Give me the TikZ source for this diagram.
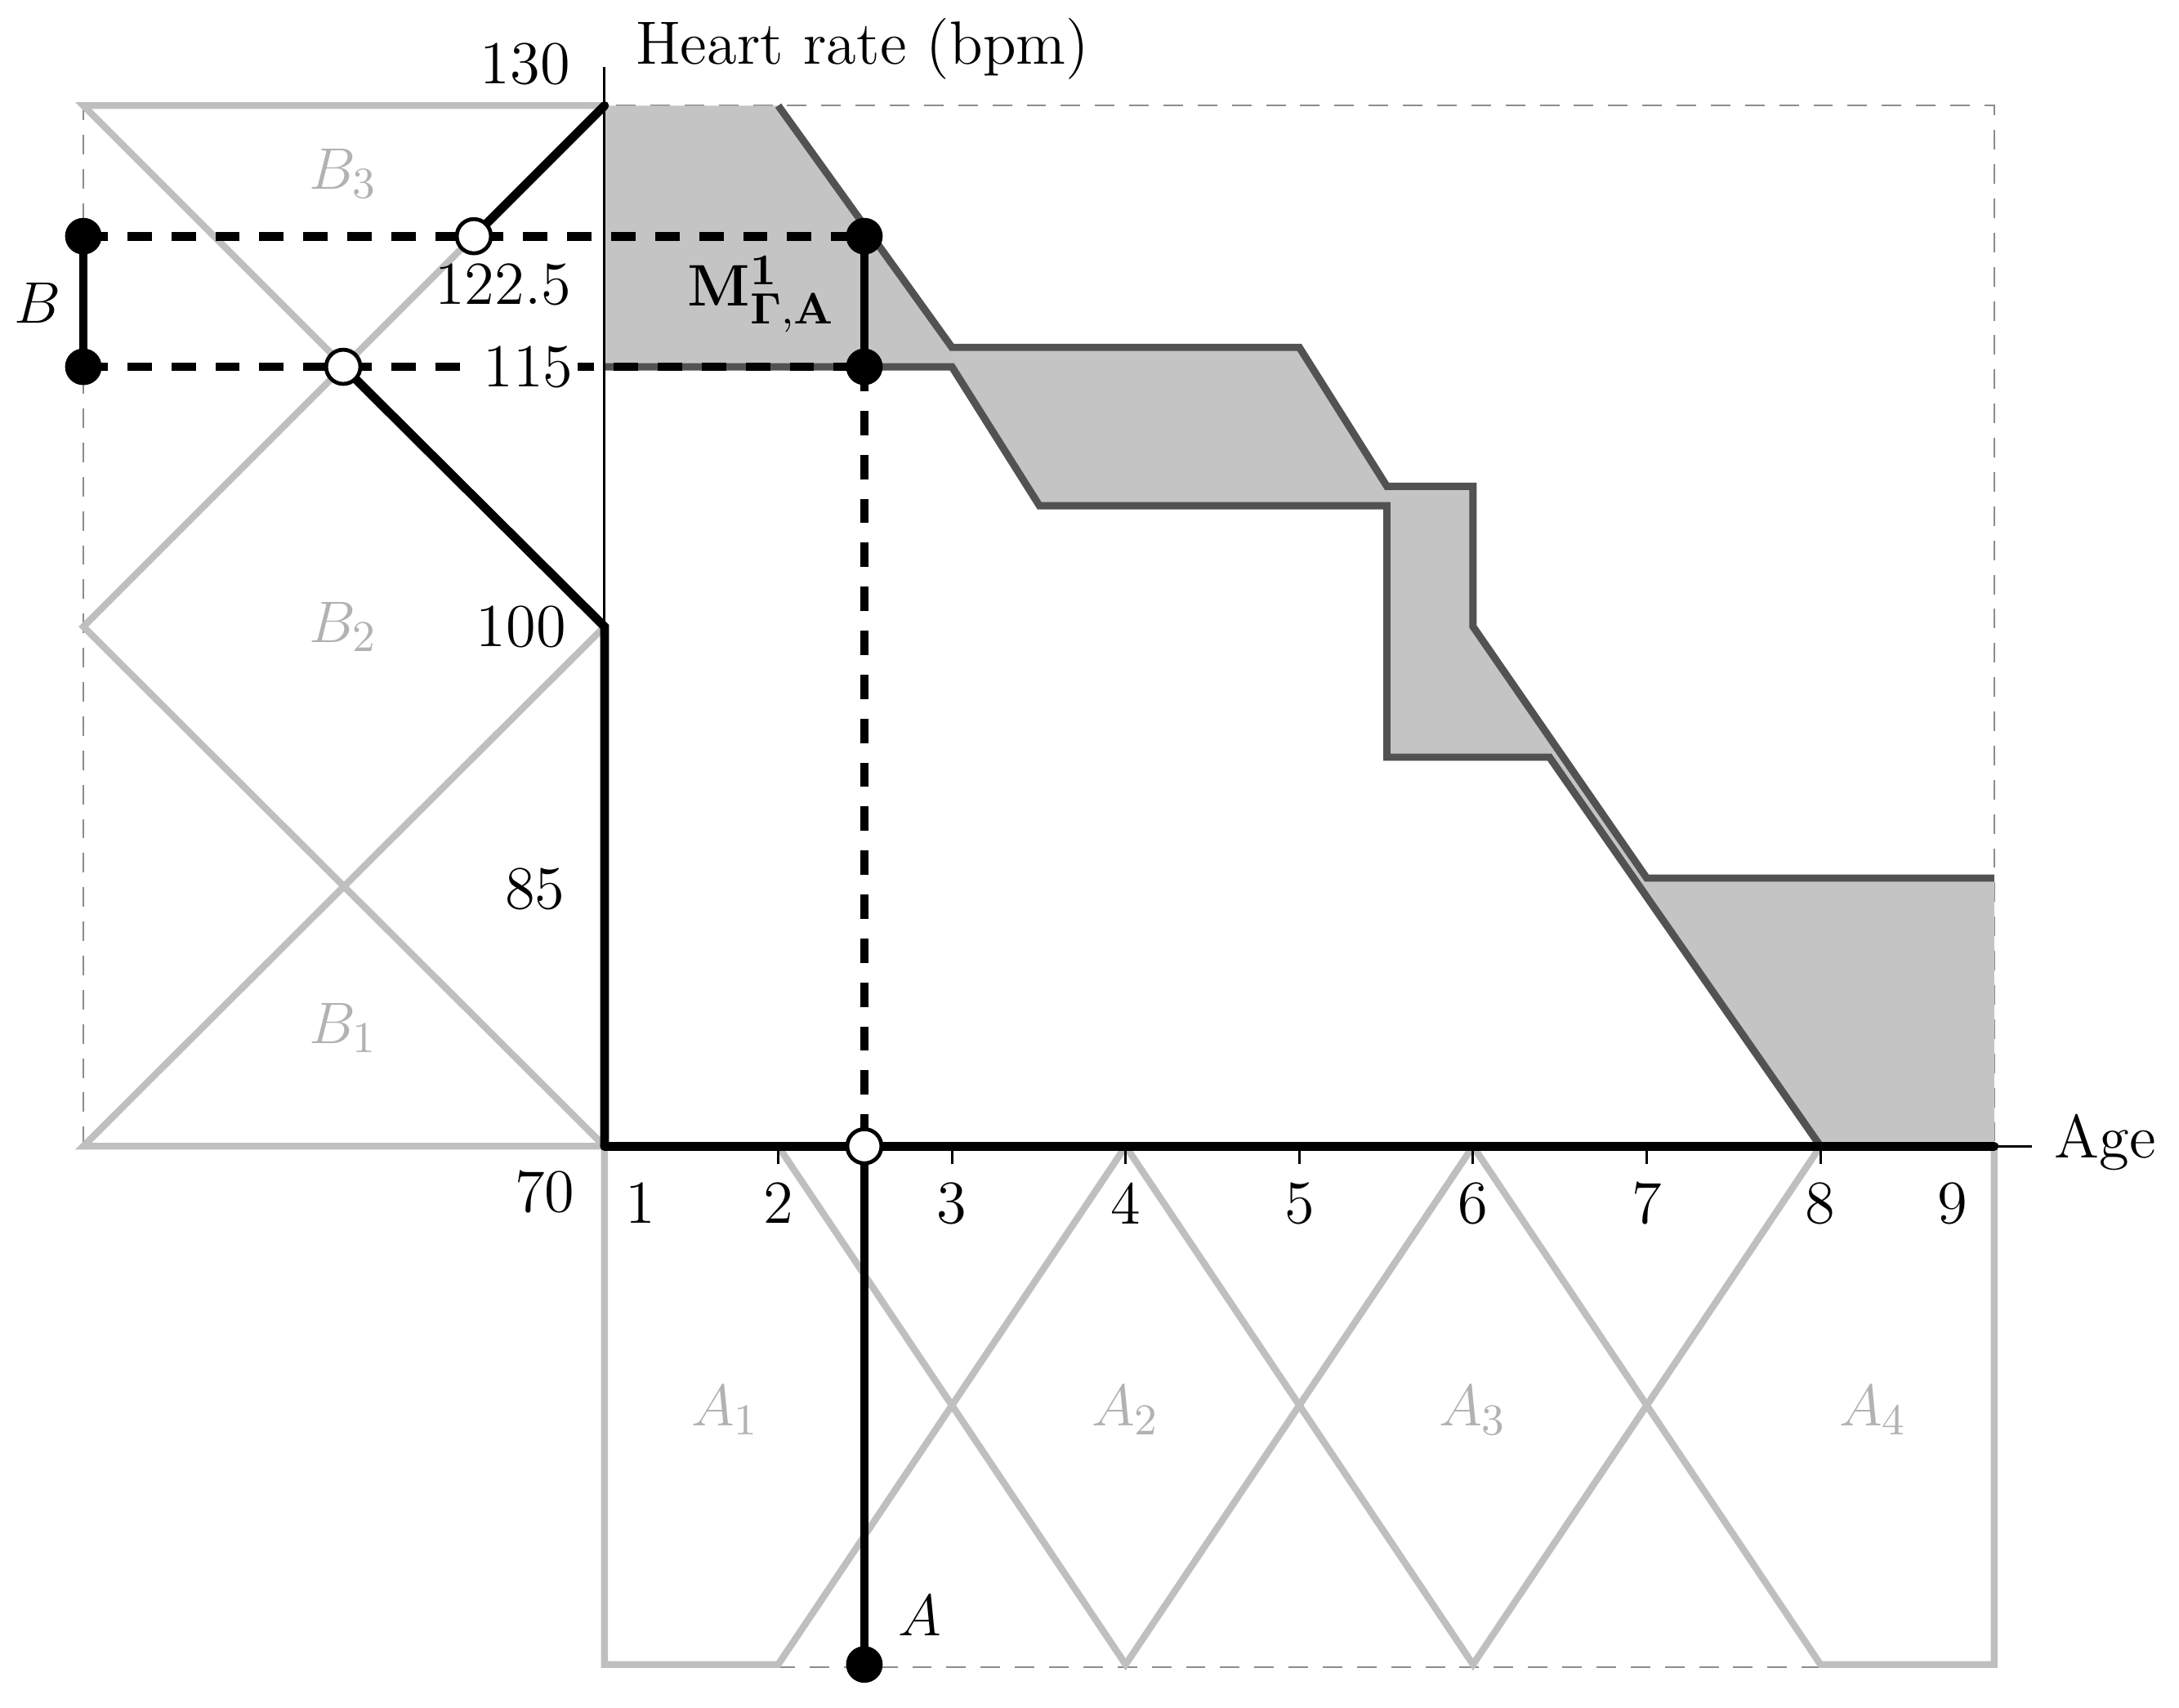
\documentclass[tikz,border=0pt]{standalone}
\usepackage{amsmath,bm}
\begin{document}
\begin{tikzpicture}[x={(0.01cm,0)},y={(0,-0.01cm)},font=\fontsize{12.5}{15}\selectfont,
  mf/.style={draw=black!25,line width=1.4pt,line join=miter},
  blk/.style={line width=1.8pt,line cap=round},
  dsh/.style={line width=1.8pt,dash pattern=on 5pt off 4pt},
  frm/.style={draw=black!45,line width=0.4pt,dash pattern=on 4pt off 3pt},
  dot/.style={circle,fill=black,inner sep=0pt,minimum size=7.5pt},
  odot/.style={circle,draw=black,fill=white,line width=0.8pt,inner sep=0pt,minimum size=7pt},
  gl/.style={text=black!30}]
\useasboundingbox (0,0) rectangle (1568,1229);
% frame
\draw[frm] (60,825) -- (60,76) -- (1435,76) -- (1435,1200) -- (435,1200);
% shaded region
\fill[black!23] (435,76) -- (560,76) -- (685,250) -- (935,250) -- (998,350) -- (1060,350) -- (1060,451) -- (1185,632) -- (1435,632) -- (1435,825) -- (1310,825) -- (1115,545) -- (998,545) -- (998,364) -- (748,364) -- (685,264) -- (435,264) -- cycle;
\draw[draw=black!68,line width=1.5pt] (560,76) -- (685,250) -- (935,250) -- (998,350) -- (1060,350) -- (1060,451) -- (1185,632) -- (1435,632);
\draw[draw=black!68,line width=1.5pt] (1310,825) -- (1115,545) -- (998,545) -- (998,364) -- (748,364) -- (685,264) -- (435,264);
% B membership functions
\draw[mf] (435,825) -- (60,825) -- (435,451);
\draw[mf] (435,825) -- (60,451) -- (435,76);
\draw[mf] (435,451) -- (60,76) -- (435,76);
\node[gl] (b1) at (247,740) {$B_1$};
\node[gl] (b2) at (247,451) {$B_2$};
\node[gl] (b3) at (247,125) {$B_3$};
% A membership functions
\draw[mf] (435,825) -- (435,1198) -- (560,1198) -- (810,825);
\draw[mf] (560,825) -- (810,1198) -- (1060,825);
\draw[mf] (810,825) -- (1060,1198) -- (1310,825);
\draw[mf] (1060,825) -- (1310,1198) -- (1435,1198) -- (1435,825);
\node[gl] (a1) at (522,1015) {$A_1$};
\node[gl] (a2) at (810,1015) {$A_2$};
\node[gl] (a3) at (1060,1015) {$A_3$};
\node[gl] (a4) at (1348,1015) {$A_4$};
% axes
\draw[line width=0.5pt] (435,825) -- (435,48);
\draw[line width=0.5pt] (1435,825) -- (1462,825);
\node[anchor=west] (age) at (1466,822) {Age};
\node[anchor=west] (hr) at (445,35) {Heart rate (bpm)};
\foreach \a/\x in {2/560,3/685,4/810,5/935,6/1060,7/1185,8/1310,9/1405}{
  \node (t\a) at (\x,866) {\a};}
\node (t1) at (461,866) {1};
\foreach \x in {560,685,810,935,1060,1185,1310}{\draw[line width=0.5pt] (\x,825) -- (\x,838);}
\node (y70) at (392,858) {70};
\node (y85) at (385,640) {85};
\node (y100) at (375,451) {100};
\node (y130) at (378,46) {130};
% thick result paths
\draw[blk] (435,825) -- (1435,825);
\draw[blk] (435,825) -- (435,451) -- (247,264);
\draw[blk] (341,170) -- (435,76);
% dashed lines
\draw[dsh] (60,170) -- (622,170);
\draw[dsh] (60,264) -- (345,264);
\draw[dsh] (410,264) -- (622,264);
\draw[dsh] (622,264) -- (622,825);
\node[fill=white,inner sep=1pt] (y115) at (380,264) {115};
% solid black segments
\draw[blk] (60,170) -- (60,264);
\draw[blk] (622,170) -- (622,264);
\draw[blk] (622,825) -- (622,1198);
\node[dot] (p1) at (60,170) {};
\node[dot] (p2) at (60,264) {};
\node[dot] (p3) at (622,170) {};
\node[dot] (p4) at (622,264) {};
\node[dot] (p5) at (622,1198) {};
\node[odot] (o1) at (341,170) {};
\node[odot] (o2) at (247,264) {};
\node[odot] (o3) at (622,825) {};
\node (lb) at (27,218) {$B$};
\node (la) at (662,1163) {$A$};
\node (l1225) at (362,205) {122.5};
\node (lm) at (548,212) {$\mathbf{M}^{\mathbf{1}}_{\bm{\Gamma},\mathbf{A}}$};
\end{tikzpicture}
\end{document}
